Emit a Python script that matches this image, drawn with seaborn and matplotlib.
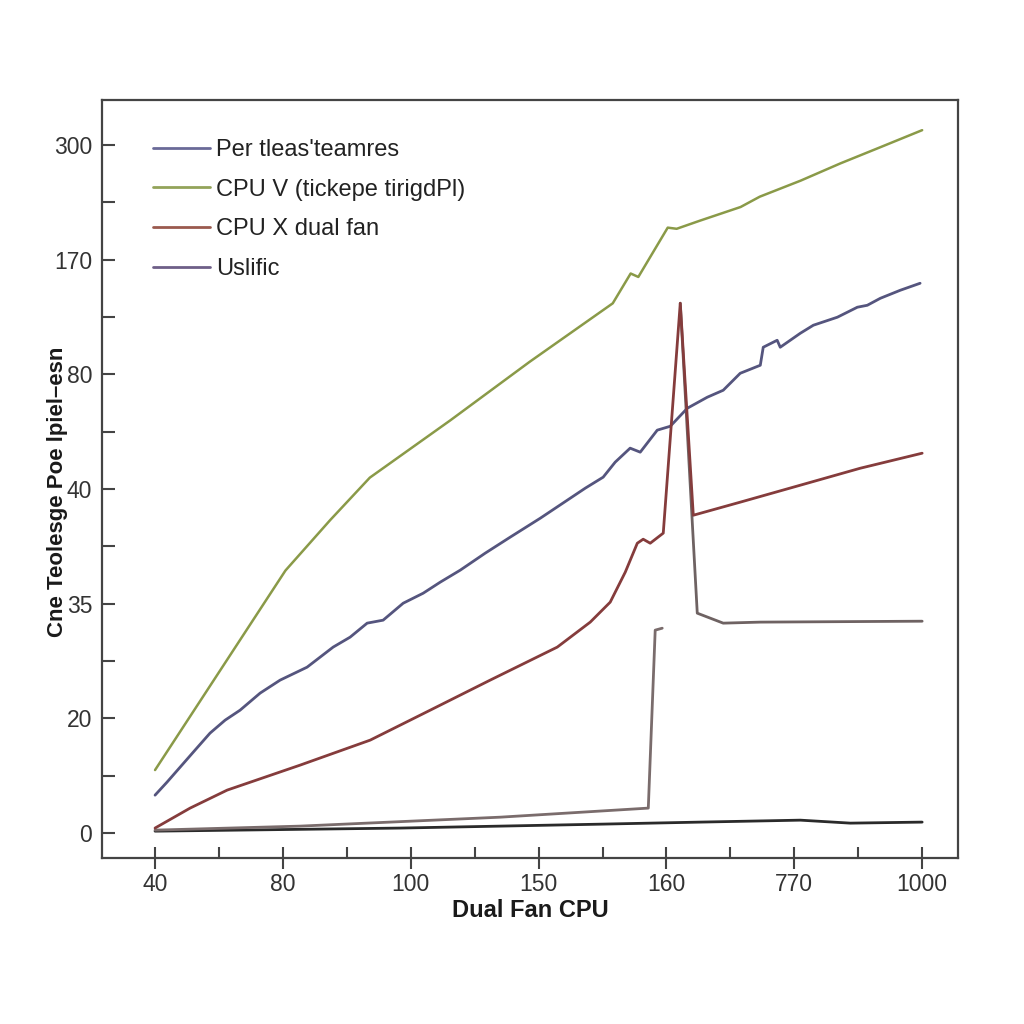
import matplotlib
matplotlib.use("Agg")
import matplotlib.pyplot as plt
import seaborn as sns
import pandas as pd
import numpy as np
from matplotlib.lines import Line2D

# Tick labels (axes are positional: label i sits at position i)
x_tick_labels = ["40", "80", "100", "150", "160", "770", "1000"]
y_tick_labels = ["0", "20", "35", "40", "80", "170", "300"]

# Series values in axis (position) units
per_x = [0, 0.094, 0.196, 0.313, 0.430, 0.548, 0.665, 0.822, 0.978, 1.189, 1.393, 1.526, 1.659,
         1.784, 1.941, 2.097, 2.230, 2.387, 2.582, 2.778, 3.013, 3.224, 3.365, 3.505, 3.599, 3.716,
         3.795, 3.928, 4.030, 4.163, 4.319, 4.444, 4.577, 4.734, 4.757, 4.866, 4.890, 5.047, 5.149,
         5.337, 5.493, 5.571, 5.673, 5.829, 5.984]
per_y = [0.331, 0.445, 0.575, 0.724, 0.872, 0.985, 1.072, 1.221, 1.334, 1.447, 1.622, 1.709, 1.831,
         1.857, 2.005, 2.092, 2.188, 2.293, 2.441, 2.581, 2.746, 2.903, 3.008, 3.104, 3.235, 3.357,
         3.322, 3.514, 3.548, 3.705, 3.801, 3.862, 4.010, 4.080, 4.237, 4.298, 4.237, 4.359, 4.429,
         4.499, 4.586, 4.603, 4.664, 4.734, 4.795]

cpuv_x = [0, 0.51, 1.02, 1.37, 1.68, 2.31, 2.93, 3.58, 3.72, 3.78, 4.01, 4.08, 4.26, 4.58, 4.73,
          5.05, 5.36, 5.67, 6.0]
cpuv_y = [0.55, 1.42, 2.29, 2.73, 3.10, 3.60, 4.11, 4.62, 4.88, 4.85, 5.28, 5.27, 5.34, 5.46, 5.55,
          5.69, 5.84, 5.98, 6.13]

cpux_x = [0, 0.274, 0.564, 1.135, 1.683, 2.152, 2.621, 3.146, 3.404, 3.560, 3.678, 3.772, 3.818,
          3.873, 3.975, 4.108, 4.210, 4.577, 5.047, 5.516, 6.0]
cpux_y = [0.044, 0.218, 0.375, 0.593, 0.811, 1.072, 1.334, 1.622, 1.840, 2.014, 2.276, 2.528, 2.563,
          2.528, 2.616, 4.621, 2.772, 2.886, 3.034, 3.182, 3.313]

usl_x = [0, 1.135, 2.700, 3.858, 3.912, 3.967]
usl_y = [0.026, 0.061, 0.139, 0.218, 1.770, 1.787]

drop_x = [4.108, 4.241, 4.444, 4.734, 6.0]
drop_y = [4.621, 1.918, 1.831, 1.840, 1.848]

base_x = [0, 1.917, 3.482, 4.264, 5.047, 5.438, 6.0]
base_y = [0.017, 0.044, 0.078, 0.096, 0.113, 0.087, 0.096]

legend_labels = ["Per tleas'teamres", "CPU V (tickepe tirigdPl)", "CPU X dual fan", "Uslific"]

sns.set_theme(style="white")
plt.rcParams['font.family'] = ['Liberation Sans', 'DejaVu Sans']

fig = plt.figure(figsize=(10.24, 10.24), dpi=100)
ax = fig.add_axes([0.0996, 0.162, 0.8359, 0.740])

def df(x, y):
    return pd.DataFrame({"x": x, "y": y})

sns.lineplot(data=df(base_x, base_y), x="x", y="y", ax=ax, color="#2a2a2a", lw=2.0, sort=False)
sns.lineplot(data=df(usl_x, usl_y), x="x", y="y", ax=ax, color="#7a6c6c", lw=2.0, sort=False)
sns.lineplot(data=df(drop_x, drop_y), x="x", y="y", ax=ax, color="#6e6262", lw=2.0, sort=False)
sns.lineplot(data=df(per_x, per_y), x="x", y="y", ax=ax, color="#55557e", lw=2.0, sort=False)
sns.lineplot(data=df(cpuv_x, cpuv_y), x="x", y="y", ax=ax, color="#8a9a48", lw=1.8, sort=False)
sns.lineplot(data=df(cpux_x, cpux_y), x="x", y="y", ax=ax, color="#853c3c", lw=2.0, sort=False)

handles = [Line2D([], [], color="#6a6a98", lw=2),
           Line2D([], [], color="#93a35a", lw=2),
           Line2D([], [], color="#9a5a4e", lw=2),
           Line2D([], [], color="#6e5f88", lw=2)]
ax.legend(handles, legend_labels, loc="upper left", bbox_to_anchor=(0.06, 0.949), frameon=False,
          borderpad=0, borderaxespad=0, fontsize=17, handlelength=2.4, handletextpad=0.25,
          labelspacing=0.75, labelcolor="#222222")

ax.set_xlim(-0.415, 6.28)
ax.set_ylim(-0.218, 6.39)
ax.set_xticks(range(len(x_tick_labels)))
ax.set_xticklabels(x_tick_labels)
ax.set_yticks(range(len(y_tick_labels)))
ax.set_yticklabels(y_tick_labels)
ax.set_xticks(np.arange(0.5, 6, 1), minor=True)
ax.set_yticks(np.arange(0.5, 6, 1), minor=True)

ax.tick_params(axis="x", which="major", direction="inout", length=16, width=1.5, color="#444444",
               labelsize=16.5, labelcolor="#333333", pad=3, bottom=True)
ax.tick_params(axis="x", which="minor", direction="in", length=8, width=1.5, color="#444444", bottom=True)
ax.tick_params(axis="y", which="major", direction="in", length=9, width=1.5, color="#444444",
               labelsize=16.5, labelcolor="#333333", pad=7, left=True)
ax.tick_params(axis="y", which="minor", direction="in", length=9, width=1.5, color="#444444", left=True)

for s in ax.spines.values():
    s.set_color("#444444")
    s.set_linewidth(1.6)

ax.set_xlabel("Dual Fan CPU", fontsize=17, fontweight="bold", color="#1a1a1a", labelpad=2)
ax.set_ylabel("Cne Teolesge Poe lpiel–esn", fontsize=16, fontweight="bold", color="#1a1a1a")
ax.yaxis.set_label_coords(-0.040, 0.483)

fig.savefig("out.png", dpi=100, facecolor="white")
